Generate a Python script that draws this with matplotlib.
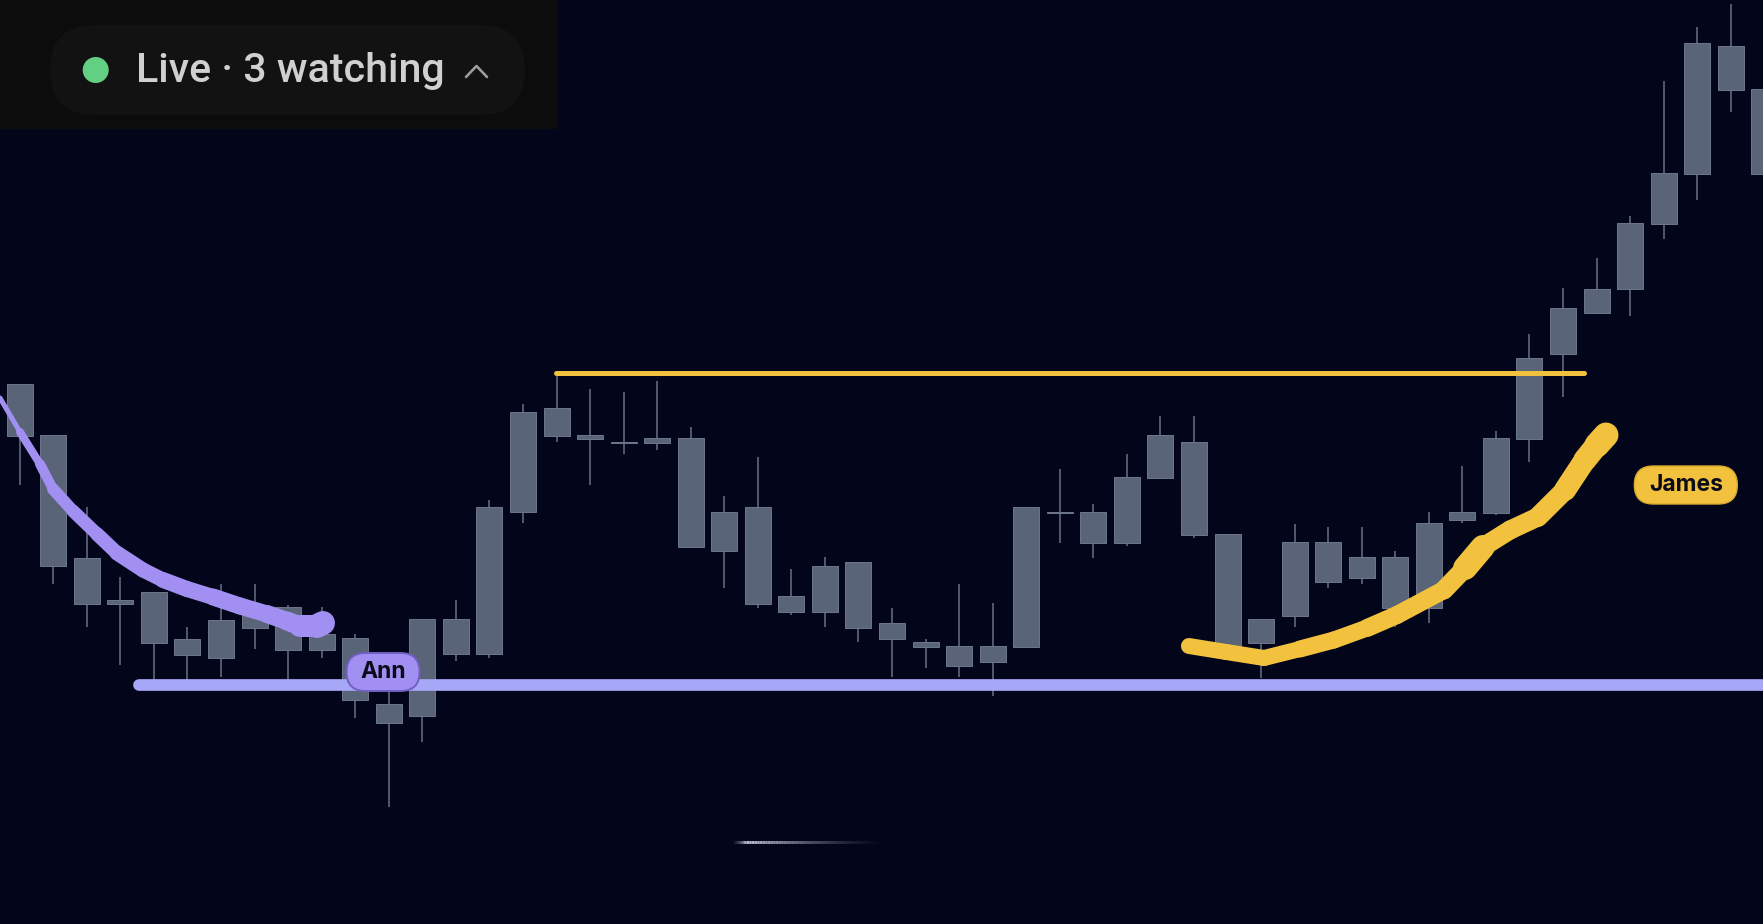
import numpy as np
import matplotlib
matplotlib.use("Agg")
import matplotlib.pyplot as plt
from matplotlib.patches import FancyBboxPatch, Circle, Rectangle
from matplotlib.collections import LineCollection
from matplotlib.transforms import IdentityTransform
from matplotlib.lines import Line2D

W, H, DPI = 1763, 924, 100
FONT = ["Inter", "DejaVu Sans"]
HEADER_FONT = ["Roboto", "Inter", "DejaVu Sans"]

# ---------------- data ----------------
opens = [154.0, 148.9, 136.6, 132.0, 133.2, 128.5, 126.6, 129.6, 131.7, 127.4,
         128.6, 122.0, 120.8, 130.5, 127.0, 141.2, 151.6, 148.9, 148.2, 148.1,
         148.6, 137.3, 141.7, 131.2, 131.2, 136.2, 130.1, 128.2, 127.8, 126.2,
         127.7, 141.1, 141.2, 138.1, 144.6, 148.2, 139.0, 128.1, 130.8, 138.2,
         134.6, 136.7, 131.6, 140.4, 141.1, 148.5, 157.0, 161.1, 163.5, 170.0,
         175.0, 187.8, 183.5]
highs = [154.0, 148.9, 141.7, 134.7, 133.2, 129.7, 134.0, 134.0, 131.9, 131.7,
         129.0, 123.5, 130.5, 132.4, 142.4, 152.0, 154.8, 153.5, 153.2, 154.3,
         149.7, 142.8, 146.7, 135.5, 136.7, 136.2, 131.6, 128.5, 134.0, 132.1,
         141.7, 145.5, 142.0, 147.0, 150.8, 150.8, 139.0, 130.5, 140.0, 139.7,
         139.7, 137.3, 141.2, 145.8, 149.3, 159.0, 163.6, 166.6, 170.8, 184.3,
         189.7, 192.0, 184.5]
lows = [143.9, 134.0, 129.7, 125.9, 124.4, 124.4, 124.7, 127.5, 124.4, 126.6,
        120.6, 111.7, 118.2, 126.3, 126.6, 140.1, 148.2, 143.9, 147.0, 147.4,
        137.7, 133.6, 131.6, 130.9, 129.7, 128.2, 124.7, 125.6, 124.7, 122.8,
        127.7, 138.1, 136.6, 137.8, 144.6, 138.6, 127.7, 124.6, 129.7, 133.6,
        134.0, 129.7, 130.1, 140.1, 140.9, 146.2, 152.7, 161.1, 160.8, 168.5,
        172.4, 181.2, 172.0]
closes = [148.8, 135.8, 132.0, 132.4, 128.1, 126.9, 130.4, 131.7, 127.4, 129.0,
          122.4, 120.1, 130.5, 127.0, 141.7, 151.2, 148.8, 148.5, 148.1, 148.6,
          137.7, 141.2, 132.0, 132.8, 135.8, 129.6, 128.5, 127.7, 125.8, 127.8,
          141.7, 141.2, 138.1, 144.7, 148.9, 138.9, 127.7, 130.5, 138.2, 134.2,
          136.7, 131.6, 140.1, 141.2, 148.6, 156.6, 161.6, 163.5, 170.1, 175.1,
          188.1, 183.4, 175.0]

# horizontal drawings (price levels) and their spans (bar index)
support_price = 123.9
support_span = (3.56, 53.0)
resistance_price = 155.07
resistance_span = (15.98, 46.63)

# freehand strokes (bar index, price)
ann_x = [-0.587, 0.009, 0.605, 0.993, 1.589, 2.304, 2.900, 3.675, 4.271, 4.987,
         5.762, 6.566, 7.371, 7.967, 8.355, 8.862, 9.040]
ann_y = [152.6, 149.2, 146.0, 143.5, 141.3, 139.0, 137.1, 135.4, 134.4, 133.5,
         132.7, 131.8, 131.0, 130.3, 129.8, 129.8, 130.1]
ann_w = [5, 8, 10, 12, 13, 14, 15, 15, 16, 16, 17, 17, 18, 19, 22, 24]  # px

james_x = [34.85, 35.96, 37.09, 38.16, 39.17, 40.16, 41.05, 42.45, 43.08, 43.61,
           44.42, 45.25, 46.06, 46.65, 47.01, 47.28]
james_y = [127.8, 127.2, 126.6, 127.5, 128.4, 129.6, 130.9, 133.4, 135.6, 137.7,
           139.4, 140.7, 143.4, 146.4, 147.9, 148.9]
james_w = [16, 16, 16, 17, 17, 18, 18, 19, 24, 19, 19, 20, 22, 23, 25]  # px

labels = ["Ann", "James"]
label_x = [10.83, 49.66]
label_y = [125.2, 143.9]

header_text = "Live \u00b7 3 watching"

# ---------------- style ----------------
BG = "#03061a"
BODY = "#5a6479"
BODY_EDGE = "#6b758a"
WICK = "#4e576b"
PURPLE_LINE = "#a6a8f7"
PURPLE_STROKE = "#a28ff2"
YELLOW = "#f2c13e"

PT = 72.0 / DPI  # points per pixel

fig = plt.figure(figsize=(W / DPI, H / DPI), dpi=DPI, facecolor=BG)
ax = fig.add_axes([0, 0, 1, 1])
ax.set_facecolor(BG)
ax.set_xlim(-0.587, 51.96)
ax.set_ylim(100.0, 192.4)
ax.axis("off")

idx = np.arange(len(opens))
o = np.array(opens); c = np.array(closes)
hi = np.array(highs); lo = np.array(lows)
top = np.maximum(o, c); bot = np.minimum(o, c)

ax.vlines(idx, lo, hi, color=WICK, linewidth=2 * PT, zorder=2)
ax.bar(idx, top - bot, bottom=bot, width=0.775, color=BODY,
       edgecolor=BODY_EDGE, linewidth=1.0 * PT, zorder=3)

# support / resistance lines
ax.plot(support_span, [support_price] * 2, color=PURPLE_LINE,
        linewidth=11.7 * PT, solid_capstyle="round", zorder=5)
ax.plot(resistance_span, [resistance_price] * 2, color=YELLOW,
        linewidth=5 * PT, solid_capstyle="round", zorder=5)


def stroke(xs, ys, widths, color):
    pts = np.column_stack([xs, ys])
    segs = [pts[i:i + 2] for i in range(len(pts) - 1)]
    lc = LineCollection(segs, colors=color,
                        linewidths=[w * PT for w in widths], zorder=6)
    lc.set_capstyle("round")
    lc.set_joinstyle("round")
    ax.add_collection(lc)


stroke(ann_x, ann_y, ann_w, PURPLE_STROKE)
stroke(james_x, james_y, james_w, YELLOW)

fig.canvas.draw()

label_style = [
    dict(w=73, h=38, fc=PURPLE_STROKE, ec="#6f60c2", lw=1.4),
    dict(w=103, h=38, fc=YELLOW, ec="#d9a92f", lw=1.0),
]
for name, xd, yd, st in zip(labels, label_x, label_y, label_style):
    cx, cy = ax.transData.transform((xd, yd))
    w, h = st["w"], st["h"]
    fig.add_artist(FancyBboxPatch((cx - w / 2, cy - h / 2), w, h,
                                  boxstyle=f"round,pad=0,rounding_size={h / 2}",
                                  facecolor=st["fc"], edgecolor=st["ec"],
                                  linewidth=st["lw"],
                                  transform=IdentityTransform(), zorder=7))
    fig.text(cx / W, cy / H, name, ha="center", va="center", fontsize=16.5,
             fontweight="bold", family=FONT, color="#0b0c1a", zorder=8)

# ---------------- header overlay (UI, pixel coordinates) ----------------
def Y(y):
    return H - y

fig.add_artist(Rectangle((0, Y(129)), 558, 129, facecolor="#0c0c0c",
                         edgecolor="none", transform=IdentityTransform(),
                         zorder=10))
fig.add_artist(FancyBboxPatch((50, Y(115)), 475, 90,
                              boxstyle="round,pad=0,rounding_size=45",
                              facecolor="#121212", edgecolor="none",
                              transform=IdentityTransform(), zorder=11))
fig.add_artist(Circle((95.7, Y(70)), 13, facecolor="#62d083",
                      edgecolor="none", transform=IdentityTransform(),
                      zorder=12))
t = fig.text(135.7 / W, Y(81.7) / H, header_text, ha="left", va="baseline",
             fontsize=27, family=HEADER_FONT, fontweight="medium",
             color="#d0d0d0", zorder=12)
fig.canvas.draw()
bb = t.get_window_extent()
t.set_fontsize(27 * 309.0 / bb.width)

fig.add_artist(Line2D([466, 476.5, 487], [Y(77), Y(66), Y(77)],
                      color="#9c9c9c", linewidth=2.6 * PT,
                      solid_capstyle="round", solid_joinstyle="round",
                      transform=IdentityTransform(), zorder=12))

# faint glow streak near bottom
xs = np.linspace(730, 887, 60)
al = np.where(xs < 745, (xs - 730) / 15.0, 1 - (xs - 745) / 142.0)
al = np.clip(al, 0, 1) ** 1.5 * 0.85
segs = [[(xs[i], Y(842)), (xs[i + 1], Y(842))] for i in range(len(xs) - 1)]
cols = [(0.85, 0.87, 0.92, a) for a in al[:-1]]
fig.add_artist(LineCollection(segs, colors=cols, linewidths=3 * PT,
                              transform=IdentityTransform(), zorder=9))

fig.savefig("out.png", dpi=DPI, facecolor=BG)
